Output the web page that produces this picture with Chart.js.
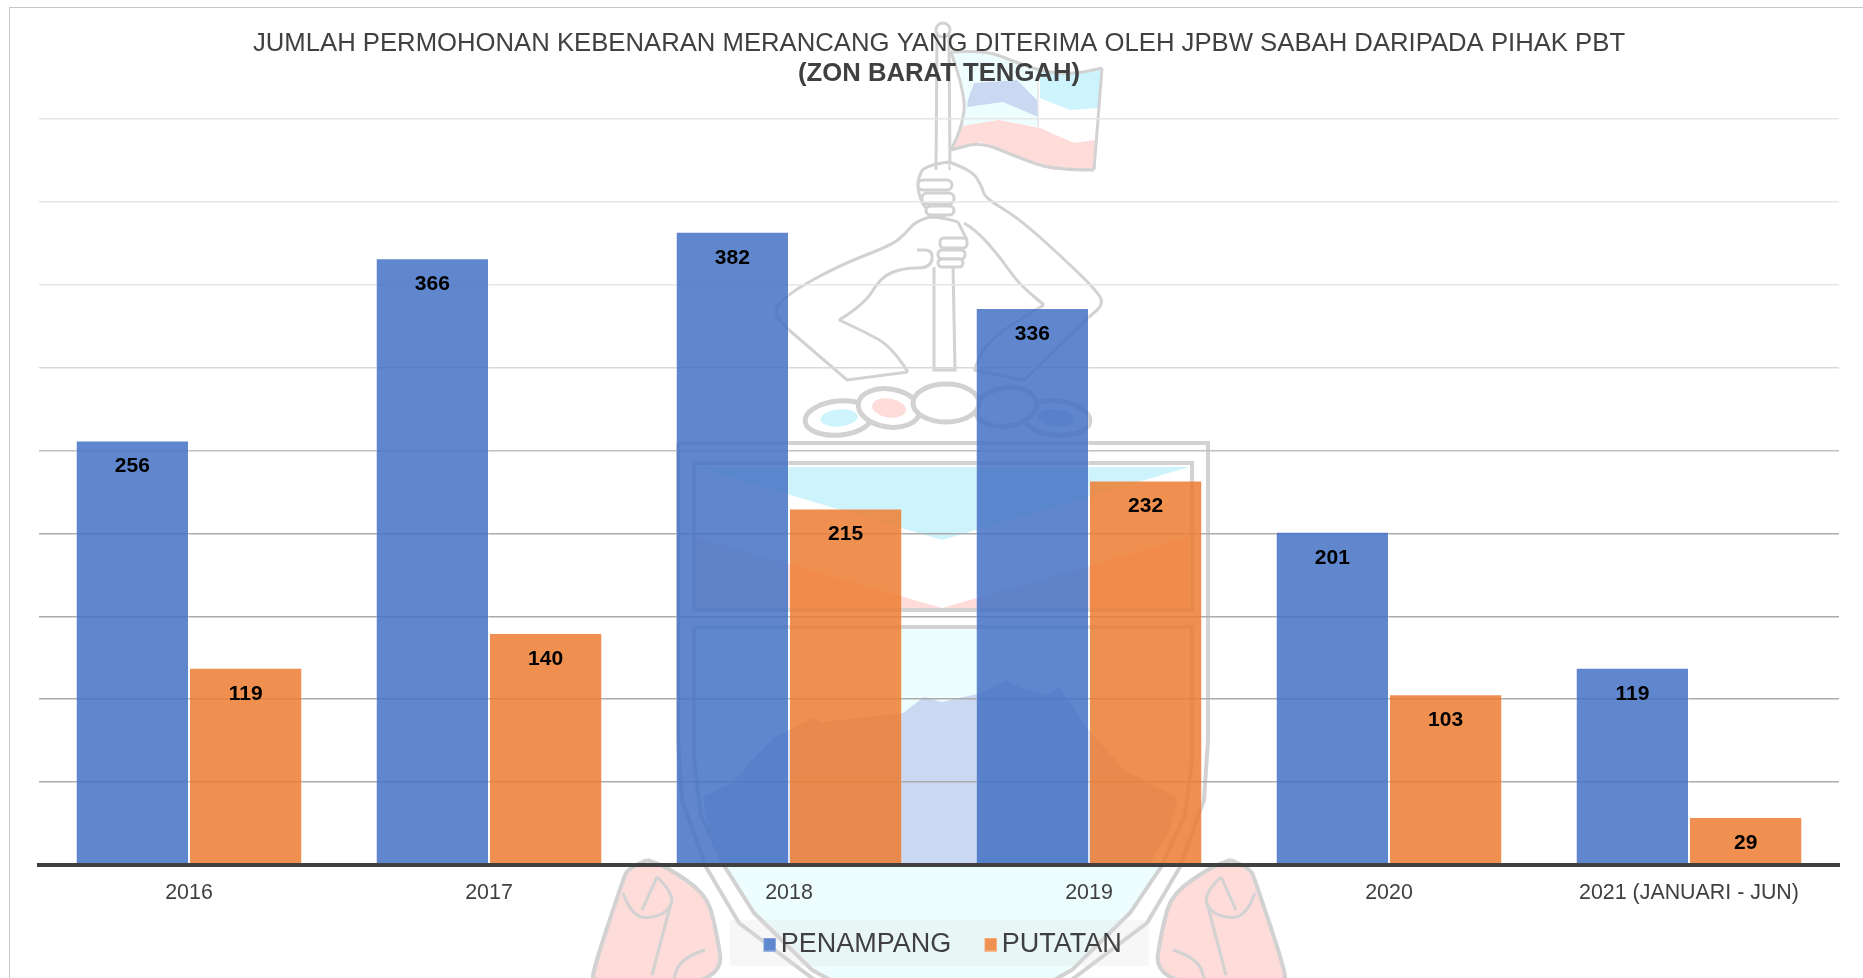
<!DOCTYPE html>
<html>
<head>
<meta charset="utf-8">
<title>Zon Barat Tengah</title>
<script src="https://cdn.jsdelivr.net/npm/chart.js@4"></script>
<style>
    html, body { margin: 0; padding: 0; background: #fff; overflow: hidden; }
    #wrap { position: relative; width: 1863px; height: 978px; }
    #frame { position: absolute; left: 9px; top: 7px; right: 0; bottom: -4px; border: 1px solid #c8c8c8; border-width: 1.5px 0 0 1.5px; pointer-events: none; }
    canvas { display: block; }
</style>
</head>
<body>
<div id="wrap">
    <canvas id="chart" width="1863" height="978"></canvas>
    <div id="frame"></div>
</div>
<script>
// Données du graphique
const categories = ['2016', '2017', '2018', '2019', '2020', '2021 (JANUARI - JUN)'];
const penampang = [256, 366, 382, 336, 201, 119];
const putatan = [119, 140, 215, 232, 103, 29];
const seriesNames = ['PENAMPANG', 'PUTATAN'];
const titleLine = 'JUMLAH PERMOHONAN KEBENARAN MERANCANG YANG DITERIMA OLEH JPBW SABAH DARIPADA PIHAK PBT';
const subtitleLine = '(ZON BARAT TENGAH)';

const blue = 'rgba(68,114,196,0.85)';
const orange = 'rgba(237,125,49,0.85)';
const crestGrey = '#d2d2d2';
const crestPink = '#fddcda';
const crestCyan = '#cdf3fd';
const crestSky = '#eefefe';
const crestBlue = '#cbd8f2';

// Les lignes de grille foncent vers le bas du graphique
function gridColor(value) {
    if (value >= 350) return '#e6e6e6';
    if (value === 300) return '#d8d8d8';
    if (value === 250) return '#c0c0c0';
    return '#ababab';
}

// Petit carré de légende, décalé à droite dans son canvas pour se rapprocher du texte
function makeSwatch(color, edge) {
    const c = document.createElement('canvas');
    c.width = 19;
    c.height = 14;
    const g = c.getContext('2d');
    g.fillStyle = color;
    g.fillRect(6, 0, 13, 14);
    g.strokeStyle = edge;
    g.strokeRect(6.5, 0.5, 12, 13);
    return c;
}

function shape(ctx, pts, fill, stroke, width, curved) {
    ctx.beginPath();
    if (curved) {
        ctx.moveTo(pts[0][0], pts[0][1]);
        for (let i = 1; i < pts.length - 1; i++) {
            const mx = (pts[i][0] + pts[i + 1][0]) / 2;
            const my = (pts[i][1] + pts[i + 1][1]) / 2;
            ctx.quadraticCurveTo(pts[i][0], pts[i][1], mx, my);
        }
        const last = pts[pts.length - 1];
        ctx.lineTo(last[0], last[1]);
    } else {
        pts.forEach((p, i) => i ? ctx.lineTo(p[0], p[1]) : ctx.moveTo(p[0], p[1]));
    }
    if (fill) {
        ctx.fillStyle = fill;
        ctx.fill();
    }
    if (stroke) {
        ctx.strokeStyle = stroke;
        ctx.lineWidth = width || 3;
        ctx.stroke();
    }
}

function stone(ctx, x, y, rx, ry, rot, inner) {
    ctx.beginPath();
    ctx.ellipse(x, y, rx, ry, rot, 0, Math.PI * 2);
    ctx.fillStyle = '#fff';
    ctx.fill();
    ctx.strokeStyle = crestGrey;
    ctx.lineWidth = 5;
    ctx.stroke();
    if (inner) {
        ctx.beginPath();
        ctx.ellipse(x, y, rx * 0.55, ry * 0.5, rot, 0, Math.PI * 2);
        ctx.fillStyle = inner;
        ctx.fill();
    }
}

function claw(ctx) {
    shape(ctx, [[647, 860], [628, 868], [623, 880], [594, 967], [592, 985], [725, 985], [715, 923], [705, 893], [667, 867], [647, 860]], crestPink, crestGrey, 4, true);
    shape(ctx, [[657, 877], [642, 910]], null, crestGrey, 3);
    shape(ctx, [[623, 893], [632, 918], [660, 917], [674, 903], [668, 888], [657, 877]], null, crestGrey, 3, true);
    shape(ctx, [[671, 903], [652, 975]], null, crestGrey, 3);
    shape(ctx, [[705, 950], [680, 958], [672, 985]], null, crestGrey, 3, true);
}

function fingers(ctx, list, radius) {
    list.forEach(f => {
        ctx.beginPath();
        ctx.roundRect(f[0], f[1], f[2], f[3], radius);
        ctx.fillStyle = '#fff';
        ctx.fill();
        ctx.strokeStyle = crestGrey;
        ctx.lineWidth = 3;
        ctx.stroke();
    });
}

// Dessine l'écusson en filigrane derrière le graphique
function drawCrest(ctx) {
    // Bouclier
    shape(ctx, [[694, 627], [1192, 627], [1192, 760], [1185, 815], [1161, 867], [1130, 913], [1072, 970], [1000, 1010], [885, 1010], [812, 970], [754, 913], [725, 867], [701, 815], [694, 760], [694, 627]], crestSky, crestGrey, 4, false);
    shape(ctx, [[703, 797], [731, 783], [774, 737], [803, 723], [814, 718], [822, 722], [903, 713], [924, 697], [942, 702], [981, 693], [1006, 680], [1021, 688], [1046, 695], [1060, 687], [1089, 730], [1124, 770], [1178, 798], [1170, 830], [1149, 865], [724, 865], [708, 825]], crestBlue);
    shape(ctx, [[696, 467], [1189, 467], [942, 540]], crestCyan);
    shape(ctx, [[696, 537], [942, 608], [1189, 537], [1189, 609], [696, 609]], crestPink);
    shape(ctx, [[694, 463], [1192, 463], [1192, 610], [694, 610], [694, 463]], null, crestGrey, 4);
    shape(ctx, [[678, 443], [1208, 443], [1208, 740], [1204, 800], [1180, 867], [1147, 923], [1074, 978], [1040, 1000]], null, crestGrey, 4);
    shape(ctx, [[678, 443], [678, 740], [682, 800], [706, 867], [739, 923], [812, 978], [846, 1000]], null, crestGrey, 4);

    // Griffes
    claw(ctx);
    ctx.save();
    ctx.translate(1878, 0);
    ctx.scale(-1, 1);
    claw(ctx);
    ctx.restore();

    // Pierres
    stone(ctx, 839, 418, 34, 17, -0.1, crestCyan);
    stone(ctx, 1056, 418, 34, 17, 0.1, crestBlue);
    stone(ctx, 889, 408, 31, 19, 0.15, crestPink);
    stone(ctx, 1006, 407, 31, 19, -0.15, null);
    stone(ctx, 946, 403, 33, 19, 0, null);

    // Mât
    ctx.beginPath();
    ctx.arc(943, 30, 7, 0, Math.PI * 2);
    ctx.fillStyle = '#fff';
    ctx.fill();
    ctx.strokeStyle = crestGrey;
    ctx.lineWidth = 3;
    ctx.stroke();
    shape(ctx, [[937, 34], [936, 170]], null, crestGrey, 3);
    shape(ctx, [[949, 34], [950, 170]], null, crestGrey, 3);
    shape(ctx, [[934, 267], [934, 370], [955, 370], [953, 267]], null, crestGrey, 3);

    // Drapeau
    const flagTop = [[951, 52], [985, 50], [1015, 62], [1045, 72], [1075, 74], [1102, 68]];
    const flagBottom = [[1094, 170], [1053, 170], [1017, 157], [981, 142], [951, 150]];
    shape(ctx, [[951, 52], [985, 50], [1015, 62], [1038, 71], [1038, 127], [1000, 120], [962, 127], [966, 95]], crestSky);
    shape(ctx, [[967, 107], [968, 100], [974, 83], [1017, 80], [1037, 100], [1038, 117], [1003, 102]], crestBlue);
    shape(ctx, [[1040, 71], [1075, 74], [1102, 68], [1098, 108], [1070, 110], [1040, 98]], crestCyan);
    shape(ctx, [[951, 150], [962, 126], [999, 120], [1040, 128], [1074, 143], [1095, 140], [1094, 170], [1053, 170], [1017, 157], [981, 142]], crestPink);
    shape(ctx, flagTop, null, crestGrey, 3, true);
    shape(ctx, [[1102, 68], [1094, 170]], null, crestGrey, 3);
    shape(ctx, flagBottom, null, crestGrey, 3, true);
    shape(ctx, [[951, 52], [966, 95], [962, 126], [951, 150]], null, crestGrey, 3, true);
    shape(ctx, [[1038, 74], [1038, 127]], null, '#e4e4e4', 1.5);

    // Bras droit
    shape(ctx, [[949, 162], [978, 177], [985, 198], [1017, 217], [1099, 293], [1100, 305], [1089, 317], [1024, 380], [974, 370], [999, 333], [1044, 305], [1018, 283], [1000, 257], [976, 230], [964, 223]], '#fff');
    shape(ctx, [[949, 162], [972, 170], [982, 187], [985, 198], [1017, 217], [1060, 255], [1099, 293], [1103, 305], [1089, 317]], null, crestGrey, 3, true);
    shape(ctx, [[1089, 317], [1024, 380], [974, 370]], null, crestGrey, 3);
    shape(ctx, [[964, 223], [976, 230], [1000, 257], [1018, 283], [1044, 305]], null, crestGrey, 3, true);
    shape(ctx, [[1044, 305], [1010, 325], [985, 345], [974, 370]], null, crestGrey, 3, true);
    shape(ctx, [[949, 162], [925, 165], [918, 178], [918, 192], [925, 210], [945, 218]], null, crestGrey, 3, true);
    fingers(ctx, [[918, 180, 34, 10], [922, 193, 32, 11], [926, 206, 28, 9]], 5);

    // Bras gauche
    shape(ctx, [[958, 217], [924, 217], [906, 233], [892, 245], [789, 293], [776, 312], [789, 330], [847, 380], [908, 372], [892, 347], [839, 320], [864, 305], [881, 277], [903, 268], [931, 268], [933, 250], [958, 250]], '#fff');
    shape(ctx, [[958, 222], [935, 215], [915, 222], [906, 233], [892, 245], [840, 265], [789, 293], [772, 312], [789, 330]], null, crestGrey, 3, true);
    shape(ctx, [[789, 330], [847, 380], [908, 372]], null, crestGrey, 3);
    shape(ctx, [[908, 372], [892, 347], [865, 332], [839, 320]], null, crestGrey, 3, true);
    shape(ctx, [[839, 320], [864, 305], [881, 277], [903, 268], [931, 268], [933, 250], [917, 250]], null, crestGrey, 3, true);
    shape(ctx, [[958, 222], [967, 240]], null, crestGrey, 3);
    fingers(ctx, [[940, 238, 27, 10], [938, 250, 27, 9], [938, 259, 25, 8]], 4);
}

// Plugin : fond (filigrane et cadre de légende)
const backdrop = {
    id: 'backdrop',
    afterLayout(chart) {
        // Replace la légende sous le graphique
        chart.legend.left += 5;
        chart.legend.right += 5;
        chart.legend.top -= 10;
        chart.legend.bottom -= 10;
    },
    beforeDraw(chart) {
        const ctx = chart.ctx;
        ctx.save();
        drawCrest(ctx);
        ctx.fillStyle = 'rgba(217,217,217,0.22)';
        ctx.fillRect(730, 920, 419, 46);
        ctx.restore();
    }
};

// Plugin : valeurs affichées dans le haut des barres
const barValues = {
    id: 'barValues',
    afterDatasetsDraw(chart) {
        const ctx = chart.ctx;
        ctx.save();
        ctx.font = 'bold 21px "Liberation Sans"';
        ctx.fillStyle = '#000';
        ctx.textAlign = 'center';
        ctx.textBaseline = 'middle';
        chart.data.datasets.forEach((ds, i) => {
            chart.getDatasetMeta(i).data.forEach((bar, j) => {
                ctx.fillText(ds.data[j], bar.x, bar.y + 26);
            });
        });
        ctx.restore();
    }
};

new Chart(document.getElementById('chart'), {
    type: 'bar',
    data: {
        labels: categories,
        datasets: [
            {
                label: seriesNames[0],
                data: penampang,
                backgroundColor: blue,
                borderColor: 'rgba(255,255,255,0.3)',
                borderWidth: 1,
                pointStyle: makeSwatch('#5f87cd', '#9db5e0')
            },
            {
                label: seriesNames[1],
                data: putatan,
                backgroundColor: orange,
                borderColor: 'rgba(255,255,255,0.3)',
                borderWidth: 1,
                pointStyle: makeSwatch('#ef9150', '#f7bd97')
            }
        ]
    },
    options: {
        responsive: false,
        animation: false,
        events: [],
        barPercentage: 1,
        categoryPercentage: 0.755,
        layout: { padding: { left: 39, right: 24, top: 0, bottom: 0 } },
        scales: {
            x: {
                afterFit(scale) { scale.height = 40; },
                grid: { display: false, drawTicks: false },
                border: { color: '#404040', width: 4, z: 1 },
                ticks: {
                    padding: 15,
                    color: '#404040',
                    maxRotation: 0,
                    font: { family: '"Liberation Sans"', size: 21.4 }
                }
            },
            y: {
                min: 0,
                max: 450,
                afterFit(scale) { scale.width = 0; },
                border: { display: false },
                ticks: { display: false, stepSize: 50 },
                grid: {
                    drawTicks: false,
                    lineWidth: 1.5,
                    color: ctx => gridColor(ctx.tick.value)
                }
            }
        },
        plugins: {
            title: {
                display: true,
                text: titleLine,
                color: '#404040',
                padding: { top: 29, bottom: 0 },
                font: { family: '"Liberation Sans"', size: 25.7, weight: 'normal', lineHeight: 30 / 25.7 }
            },
            subtitle: {
                display: true,
                text: subtitleLine,
                color: '#404040',
                padding: { top: 0, bottom: 30 },
                font: { family: '"Liberation Sans"', size: 25.7, weight: 'bold', lineHeight: 30 / 25.7 }
            },
            legend: {
                position: 'bottom',
                labels: {
                    color: '#404040',
                    usePointStyle: true,
                    pointStyleWidth: 1,
                    boxHeight: 13,
                    padding: 36,
                    font: { family: '"Liberation Sans"', size: 27 }
                }
            },
            tooltip: { enabled: false }
        }
    },
    plugins: [backdrop, barValues]
});
</script>
</body>
</html>
